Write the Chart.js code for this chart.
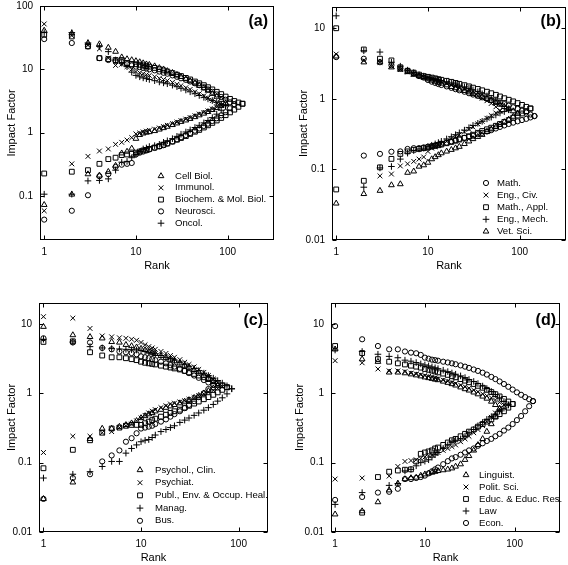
<!DOCTYPE html>
<html><head><meta charset="utf-8">
<script src="https://cdn.jsdelivr.net/npm/chart.js@4.4.1/dist/chart.umd.min.js"></script>
<style>
html,body{margin:0;padding:0;background:#fff;}
#wrap{position:relative;width:568px;height:565px;overflow:hidden;background:#fff;}
canvas{position:absolute;}
</style></head><body><div id="wrap">
<canvas id="ca" width="284" height="282" style="left:0;top:0"></canvas>
<canvas id="cb" width="284" height="282" style="left:284px;top:0"></canvas>
<canvas id="cc" width="284" height="283" style="left:0;top:282px"></canvas>
<canvas id="cd" width="284" height="283" style="left:284px;top:282px"></canvas>
</div>
<script>
// ---------- shared rank grid (x values) ----------
const RANK = [1,2,3,4,5,6,7,8,9,10,11,12,13,14,16,18,20,22,25,28,31,35,39,44,49,55,61,68,76,85,95,106,118,131,145,160];

// ---------- tick labels ----------
const X_TICKS = [1,10,100];
const X_TICK_LABELS = ['1','10','100'];
const Y_TICKS_A = [0.1,1,10,100];
const Y_TICK_LABELS_A = ['0.1','1','10','100'];
const Y_TICKS_BCD = [0.01,0.1,1,10];
const Y_TICK_LABELS_BCD = ['0.01','0.1','1','10'];

// ---------- panel (a) ----------
const NAMES_A = ['Cell Biol.','Immunol.','Biochem. & Mol. Biol.','Neurosci.','Oncol.'];
const cellUp = [41,37,26,25,22,19,15.5,14.5,14,13.5,13,12.5,12,11.8,11.2,10.5,10,9.4,8.8,8.2,7.6,7,6.5,6,5.5,5,4.6,4.1,3.7,3.3,2.9];
const cellLo = [0.072,0.105,0.22,0.21,0.24,0.3,0.47,0.5,0.56,0.8,0.92,0.97,1.0,1.02,1.06,1.12,1.18,1.24,1.32,1.4,1.48,1.56,1.65,1.76,1.88,2.0,2.12,2.28,2.45,2.65,2.9];
const immUp = [52,34,24,21,15,11.5,12,11,10,9.2,8.8,8.5,8.2,8,7.6,7.2,6.9,6.6,6.2,5.8,5.5,5.1,4.8,4.4,4.1,3.8,3.5,3.2,2.95,2.7];
const immLo = [0.058,0.32,0.42,0.51,0.55,0.65,0.7,0.76,0.83,0.95,0.98,1.02,1.05,1.08,1.13,1.18,1.24,1.3,1.38,1.46,1.54,1.63,1.72,1.84,1.96,2.08,2.2,2.35,2.52,2.7];
const bioUp = [35,33,23,15,14.5,14,14,12.5,12,12,11.8,11.5,11.2,11,10.5,10,9.6,9.2,8.7,8.2,7.8,7.3,6.9,6.4,6,5.6,5.2,4.8,4.4,4.05,3.7,3.4,3.15,2.98,2.85];
const bioLo = [0.225,0.24,0.254,0.32,0.38,0.4,0.44,0.45,0.46,0.48,0.5,0.52,0.53,0.55,0.58,0.61,0.64,0.67,0.72,0.77,0.82,0.88,0.95,1.03,1.1,1.2,1.3,1.42,1.55,1.7,1.88,2.08,2.3,2.55,2.85];
const neuUp = [30,26,23,15,14,13.5,13,12,11.5,11,10.8,10.5,10.3,10,9.6,9.2,8.8,8.5,8,7.6,7.2,6.8,6.4,6,5.6,5.2,4.8,4.4,4,3.65,3.3,3.0,2.8];
const neuLo = [0.042,0.058,0.102,0.204,0.22,0.286,0.31,0.32,0.33,0.45,0.48,0.5,0.52,0.54,0.57,0.6,0.63,0.67,0.72,0.78,0.84,0.91,0.98,1.07,1.16,1.27,1.38,1.52,1.68,1.87,2.1,2.42,2.8];
const oncUp = [38,38,26,23,19,14,12.5,11,9,8,7.6,7.3,7.1,6.9,6.6,6.3,6.1,5.9,5.6,5.3,5,4.7,4.4,4.1,3.85,3.6,3.4,3.2,3,2.8,2.65];
const oncLo = [0.106,0.106,0.172,0.175,0.185,0.254,0.34,0.35,0.4,0.45,0.5,0.55,0.57,0.6,0.62,0.65,0.7,0.74,0.8,0.87,0.94,1.02,1.1,1.2,1.3,1.42,1.55,1.72,1.95,2.25,2.65];

// ---------- panel (b) ----------
const NAMES_B = ['Math.','Eng., Civ.','Math., Appl.','Eng., Mech.','Vet. Sci.'];
const mathUp = [3.9,3.7,3.3,3.0,2.7,2.5,2.3,2.1,2.0,1.85,1.75,1.68,1.62,1.57,1.5,1.43,1.37,1.32,1.26,1.2,1.15,1.1,1.05,1.0,0.96,0.92,0.88,0.84,0.8,0.76,0.72,0.68,0.64,0.6,0.57];
const mathLo = [null,0.157,0.166,0.178,0.18,0.195,0.2,0.2,0.205,0.21,0.215,0.22,0.225,0.23,0.24,0.25,0.26,0.27,0.28,0.29,0.3,0.315,0.33,0.345,0.36,0.38,0.4,0.42,0.44,0.46,0.48,0.5,0.52,0.545,0.57];
const civUp = [4.3,3.5,3.3,2.9,2.6,2.4,2.25,2.15,2.05,1.95,1.9,1.84,1.78,1.73,1.64,1.56,1.49,1.42,1.34,1.26,1.18,1.1,1.02,0.94,0.86,0.77,0.68];
const civLo = [null,null,0.081,0.086,0.112,0.12,0.13,0.14,0.15,0.18,0.2,0.21,0.22,0.23,0.25,0.27,0.29,0.31,0.34,0.37,0.4,0.44,0.48,0.53,0.58,0.63,0.68];
const mAppUp = [10,5.0,3.7,3.5,2.8,2.5,2.35,2.2,2.1,2.05,2.0,1.95,1.9,1.86,1.8,1.74,1.68,1.63,1.56,1.5,1.44,1.38,1.32,1.26,1.2,1.14,1.08,1.02,0.97,0.92,0.87,0.82,0.77,0.73];
const mAppLo = [0.052,0.069,0.107,0.141,0.166,0.18,0.19,0.195,0.2,0.205,0.21,0.215,0.22,0.225,0.235,0.245,0.255,0.265,0.28,0.295,0.31,0.33,0.35,0.37,0.39,0.415,0.44,0.47,0.5,0.54,0.58,0.62,0.67,0.73];
const mechUp = [15,4.8,4.6,3.3,2.9,2.55,2.35,2.2,2.1,2.0,1.95,1.9,1.86,1.82,1.75,1.68,1.62,1.56,1.48,1.41,1.34,1.26,1.18,1.1,1.02,0.94,0.86,0.78,0.7];
const mechLo = [null,0.056,0.105,0.11,0.14,0.17,0.185,0.195,0.2,0.21,0.22,0.23,0.24,0.25,0.27,0.29,0.31,0.33,0.36,0.39,0.42,0.45,0.48,0.52,0.55,0.59,0.63,0.66,0.7];
const vetUp = [4.0,3.3,3.3,2.8,2.6,2.4,2.2,2.1,2.0,1.9,1.82,1.76,1.7,1.65,1.56,1.48,1.42,1.36,1.3,1.24,1.18,1.12,1.06,1.0,0.94,0.88,0.83,0.77,0.72,0.67,0.62];
const vetLo = [0.033,0.045,0.05,0.06,0.062,0.09,0.094,0.11,0.115,0.125,0.14,0.15,0.16,0.17,0.18,0.19,0.2,0.21,0.23,0.25,0.27,0.29,0.31,0.34,0.37,0.4,0.43,0.47,0.51,0.56,0.62];

// ---------- panel (c) ----------
const NAMES_C = ['Psychol., Clin.','Psychiat.','Publ., Env. & Occup. Heal.','Manag.','Bus.'];
const clinUp = [9.1,6.9,6.5,6.2,5.5,5.4,5.0,4.8,4.6,4.4,4.2,4.0,3.85,3.7,3.45,3.25,3.05,2.9,2.7,2.5,2.35,2.15,2.0,1.8,1.62,1.45,1.3];
const clinLo = [0.03,0.052,0.22,0.31,0.31,0.33,0.35,0.37,0.4,0.44,0.47,0.5,0.52,0.55,0.58,0.62,0.65,0.68,0.72,0.76,0.8,0.86,0.92,1.0,1.08,1.18,1.3];
const psyUp = [12.7,12.1,8.6,6.7,6.5,6.3,6.2,6.0,5.8,5.4,5.0,4.7,4.5,4.3,4.0,3.75,3.5,3.3,3.05,2.8,2.6,2.4,2.2,2.0,1.8,1.6,1.42,1.25];
const psyLo = [0.14,0.24,0.24,0.27,0.28,0.32,0.34,0.36,0.4,0.44,0.48,0.52,0.55,0.58,0.62,0.66,0.7,0.72,0.75,0.78,0.82,0.87,0.92,0.98,1.04,1.1,1.17,1.25];
const pubUp = [5.5,5.6,3.9,3.5,3.3,3.3,3.2,3.1,3.0,2.85,2.75,2.7,2.65,2.6,2.5,2.42,2.35,2.28,2.2,2.1,2.0,1.9,1.8,1.7,1.6,1.5,1.4,1.3,1.22];
const pubLo = [0.083,0.153,0.21,0.27,0.31,0.32,0.34,0.35,0.35,0.35,0.37,0.39,0.41,0.43,0.46,0.49,0.52,0.55,0.58,0.62,0.66,0.71,0.76,0.82,0.88,0.95,1.03,1.12,1.22];
const manUp = [6.0,5.5,4.7,4.5,4.4,4.35,4.3,4.25,4.2,4.1,4.0,3.9,3.8,3.7,3.5,3.3,3.15,3.0,2.8,2.62,2.45,2.28,2.12,1.95,1.8,1.65,1.52,1.4,1.28,1.16];
const manLo = [0.06,0.068,0.074,0.088,0.104,0.104,0.137,0.16,0.18,0.2,0.21,0.215,0.23,0.25,0.28,0.3,0.32,0.34,0.38,0.41,0.44,0.48,0.52,0.57,0.62,0.69,0.77,0.86,0.98,1.16];
const busUp = [6.2,5.4,5.4,4.5,4.3,4.0,3.9,3.8,3.65,3.4,3.3,3.2,3.1,3.0,2.85,2.7,2.55,2.42,2.25,2.1,1.95,1.8,1.67,1.55,1.43,1.32];
const busLo = [0.03,0.06,0.068,0.104,0.127,0.15,0.2,0.225,0.265,0.31,0.32,0.33,0.34,0.36,0.39,0.42,0.46,0.5,0.55,0.61,0.68,0.77,0.88,1.0,1.15,1.32];

// ---------- panel (d) ----------
const NAMES_D = ['Linguist.','Polit. Sci.','Educ. & Educ. Res.','Law','Econ.'];
const lingUp = [4.3,3.1,2.85,2.0,2.0,1.95,1.88,1.82,1.76,1.7,1.66,1.62,1.58,1.55,1.48,1.42,1.36,1.3,1.22,1.15,1.1,1.03,0.97,0.9,0.84,0.76,0.68,0.6];
const lingLo = [0.018,0.02,0.027,0.04,0.05,0.058,0.06,0.061,0.065,0.068,0.07,0.072,0.074,0.076,0.078,0.08,0.083,0.088,0.095,0.11,0.125,0.15,0.18,0.22,0.28,0.36,0.46,0.6];
const polUp = [2.95,2.75,2.24,2.1,2.1,2.05,1.95,1.9,1.85,1.8,1.75,1.7,1.66,1.62,1.55,1.49,1.43,1.38,1.31,1.24,1.18,1.11,1.05,0.98,0.92,0.86,0.8,0.74,0.68];
const polLo = [0.058,0.06,null,0.064,0.088,0.104,0.107,0.11,0.115,0.12,0.125,0.13,0.135,0.14,0.15,0.16,0.17,0.18,0.2,0.22,0.24,0.27,0.3,0.34,0.39,0.45,0.52,0.6,0.68];
const eduUp = [4.8,3.8,3.1,2.85,2.7,2.6,2.5,2.42,2.34,2.24,2.18,2.12,2.06,2.0,1.92,1.84,1.76,1.7,1.6,1.52,1.44,1.36,1.28,1.2,1.12,1.04,0.97,0.9,0.83,0.76,0.7];
const eduLo = [null,0.019,0.062,0.074,0.077,0.079,0.08,0.104,0.134,0.14,0.145,0.15,0.16,0.165,0.18,0.195,0.21,0.22,0.24,0.26,0.28,0.3,0.33,0.36,0.39,0.42,0.46,0.5,0.55,0.62,0.7];
const lawUp = [4.2,4.0,3.65,3.4,3.25,3.0,2.9,2.77,2.65,2.56,2.48,2.4,2.33,2.26,2.15,2.05,1.96,1.88,1.78,1.68,1.58,1.48,1.38,1.27,1.17,1.06,0.96,0.86,0.76,0.68];
const lawLo = [0.025,0.037,null,0.047,0.05,0.076,0.08,0.09,0.1,0.105,0.11,0.12,0.13,0.14,0.16,0.18,0.2,0.21,0.22,0.24,0.27,0.3,0.34,0.38,0.42,0.46,0.5,0.55,0.61,0.68];
const econUp = [9.3,6.0,4.8,4.3,4.3,4.0,3.85,3.77,3.57,3.26,3.15,3.05,3.0,2.95,2.85,2.78,2.7,2.62,2.52,2.42,2.32,2.2,2.1,1.98,1.86,1.72,1.6,1.48,1.36,1.24,1.13,1.03,0.95,0.88,0.82,0.77];
const econLo = [0.029,0.032,0.037,0.038,0.042,0.058,0.058,0.06,0.062,0.065,0.07,0.075,0.08,0.085,0.095,0.105,0.115,0.12,0.13,0.14,0.15,0.16,0.175,0.19,0.205,0.22,0.24,0.26,0.29,0.32,0.36,0.41,0.47,0.55,0.65,0.77];

// ---------- rendering ----------
const FONT = "'Liberation Sans', Arial, Helvetica, sans-serif";
const RADIUS = {circle:2.6, rect:3.4, triangle:3.3, cross:3.3, crossRot:3.4};

function toPoints(up, lo){
  const pts = [];
  up.forEach((v,i)=>{ if (v!=null) pts.push({x:RANK[i], y:v}); });
  lo.forEach((v,i)=>{ if (v!=null) pts.push({x:RANK[i], y:v}); });
  return pts;
}

function makePanel(id, P){
  const cv = document.getElementById(id);
  const W = cv.width, H = cv.height, A = P.area;
  const datasets = P.series.map((s,k)=>({
    label: P.names[k],
    data: toPoints(s[0], s[1]),
    pointStyle: P.styles[k],
    pointRadius: RADIUS[P.styles[k]],
    borderColor: '#000',
    backgroundColor: 'rgba(0,0,0,0)',
    borderWidth: 1,
    showLine: false
  }));
  const deco = {
    id: 'deco'+id,
    afterDraw(chart){
      const ctx = chart.ctx, ca = chart.chartArea;
      const xs = chart.scales.x, ys = chart.scales.y;
      ctx.save();
      ctx.strokeStyle = '#000'; ctx.lineWidth = 1;
      const L = Math.round(ca.left)+0.5, R = Math.round(ca.right)-0.5, T = Math.round(ca.top)+0.5, B = Math.round(ca.bottom)-0.5;
      ctx.strokeRect(L, T, R-L, B-T);
      const tl = 4;
      ctx.beginPath();
      P.yTicks.forEach(v=>{ const y = Math.round(ys.getPixelForValue(v))+0.5; ctx.moveTo(L,y); ctx.lineTo(L+tl,y); ctx.moveTo(R,y); ctx.lineTo(R-tl,y); });
      X_TICKS.forEach(v=>{ const x = Math.round(xs.getPixelForValue(v))+0.5; ctx.moveTo(x,B); ctx.lineTo(x,B-tl); ctx.moveTo(x,T); ctx.lineTo(x,T+tl); });
      ctx.stroke();
      // axis titles
      ctx.fillStyle = '#000';
      ctx.font = '11px ' + FONT;
      ctx.textAlign = 'center'; ctx.textBaseline = 'middle';
      ctx.fillText('Rank', (ca.left+ca.right)/2, P.rankY);
      ctx.save();
      ctx.translate(P.ylabX, (ca.top+ca.bottom)/2);
      ctx.rotate(-Math.PI/2);
      ctx.fillText('Impact Factor', 0, 0);
      ctx.restore();
      // panel letter
      ctx.font = 'bold 16px ' + FONT;
      ctx.textAlign = 'right';
      ctx.fillText(P.letter, P.letterX, P.letterY);
      // legend
      ctx.font = '9.6px ' + FONT;
      ctx.textAlign = 'left';
      P.names.forEach((n,k)=>{
        const y = P.legY + k*P.legDy;
        ctx.fillStyle = 'rgba(0,0,0,0)';
        ctx.strokeStyle = '#000'; ctx.lineWidth = 1;
        Chart.helpers.drawPoint(ctx, {pointStyle:P.styles[k], rotation:0, radius:RADIUS[P.styles[k]], borderWidth:1}, P.legSymX, y);
        ctx.fillStyle = '#000';
        ctx.fillText(n, P.legTextX, y);
      });
      ctx.restore();
    }
  };
  return new Chart(cv, {
    type: 'scatter',
    data: {datasets},
    options: {
      responsive:false, animation:false, devicePixelRatio:1,
      layout:{autoPadding:false, padding:{left:0, top:A.t, right:W-A.r, bottom:0}},
      plugins:{legend:{display:false}, tooltip:{enabled:false}},
      scales:{
        x:{type:'logarithmic', min:P.xmin, max:P.xmax,
           grid:{display:false, drawTicks:false}, border:{display:false},
           afterBuildTicks:(s)=>{ s.ticks = X_TICKS.map(v=>({value:v})); },
           afterFit:(s)=>{ s.height = H - A.b; s.paddingLeft = 0; s.paddingRight = 0; s.paddingTop = 0; s.paddingBottom = 0; },
           ticks:{font:{family:FONT, size:10}, color:'#000', padding:6, maxRotation:0, autoSkip:false,
                  callback:(v,i)=>X_TICK_LABELS[i]}},
        y:{type:'logarithmic', min:P.ymin, max:P.ymax,
           grid:{display:false, drawTicks:false}, border:{display:false},
           afterBuildTicks:(s)=>{ s.ticks = P.yTicks.map(v=>({value:v})); },
           afterFit:(s)=>{ s.width = A.l; s.paddingTop = 0; s.paddingBottom = 0; s.paddingLeft = 0; s.paddingRight = 0; },
           ticks:{font:{family:FONT, size:10}, color:'#000', padding:7, autoSkip:false,
                  callback:(v,i)=>P.yLabels[i]}}
      }
    },
    plugins:[deco]
  });
}

makePanel('ca', {
  area:{l:40,t:6,r:274,b:240}, xmin:0.9, xmax:320, ymin:0.02, ymax:100,
  yTicks:Y_TICKS_A, yLabels:Y_TICK_LABELS_A,
  names:NAMES_A, styles:['triangle','crossRot','rect','circle','cross'],
  series:[[cellUp,cellLo],[immUp,immLo],[bioUp,bioLo],[neuUp,neuLo],[oncUp,oncLo]],
  rankY:266, ylabX:12, letter:'(a)', letterX:268, letterY:22,
  legSymX:161, legTextX:175, legY:176, legDy:11.8
});
makePanel('cb', {
  area:{l:48,t:7,r:282,b:240}, xmin:0.9, xmax:320, ymin:0.01, ymax:20,
  yTicks:Y_TICKS_BCD, yLabels:Y_TICK_LABELS_BCD,
  names:NAMES_B, styles:['circle','crossRot','rect','cross','triangle'],
  series:[[mathUp,mathLo],[civUp,civLo],[mAppUp,mAppLo],[mechUp,mechLo],[vetUp,vetLo]],
  rankY:266, ylabX:20, letter:'(b)', letterX:277, letterY:22,
  legSymX:202, legTextX:213, legY:183, legDy:12.1
});
makePanel('cc', {
  area:{l:39,t:21,r:268,b:250}, xmin:0.9, xmax:200, ymin:0.01, ymax:20,
  yTicks:Y_TICKS_BCD, yLabels:Y_TICK_LABELS_BCD,
  names:NAMES_C, styles:['triangle','crossRot','rect','cross','circle'],
  series:[[clinUp,clinLo],[psyUp,psyLo],[pubUp,pubLo],[manUp,manLo],[busUp,busLo]],
  rankY:276, ylabX:12, letter:'(c)', letterX:263, letterY:39,
  legSymX:140, legTextX:155, legY:188, legDy:12.7
});
makePanel('cd', {
  area:{l:47,t:21,r:276,b:250}, xmin:0.9, xmax:320, ymin:0.01, ymax:20,
  yTicks:Y_TICKS_BCD, yLabels:Y_TICK_LABELS_BCD,
  names:NAMES_D, styles:['triangle','crossRot','rect','cross','circle'],
  series:[[lingUp,lingLo],[polUp,polLo],[eduUp,eduLo],[lawUp,lawLo],[econUp,econLo]],
  rankY:276, ylabX:16, letter:'(d)', letterX:272, letterY:39,
  legSymX:182, legTextX:195, legY:193, legDy:12
});
</script>
</body></html>
